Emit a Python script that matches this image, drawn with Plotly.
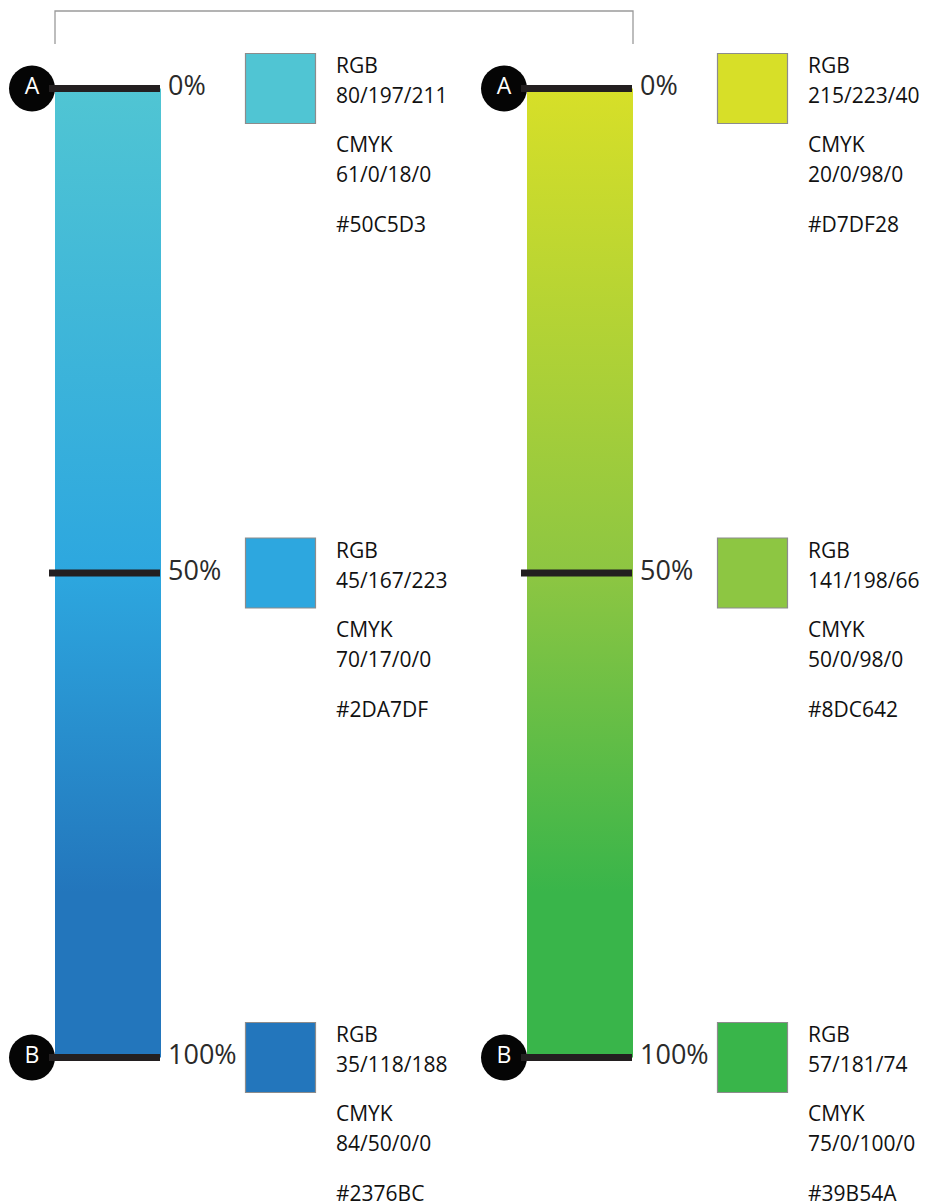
import plotly.graph_objects as go

# ---------------- data ----------------
stops = [0, 50, 100]
stop_labels = ["0%", "50%", "100%"]
end_marks = ["A", "", "B"]

blue_hex = ["#50C5D3", "#2DA7DF", "#2376BC"]
blue_rgb = ["80/197/211", "45/167/223", "35/118/188"]
blue_cmyk = ["61/0/18/0", "70/17/0/0", "84/50/0/0"]

green_hex = ["#D7DF28", "#8DC642", "#39B54A"]
green_rgb = ["215/223/40", "141/198/66", "57/181/74"]
green_cmyk = ["20/0/98/0", "50/0/98/0", "75/0/100/0"]

# position (0..1) where the gradient reaches its end colour
gradient_end = 0.83

columns = [
    dict(hexes=blue_hex, rgb=blue_rgb, cmyk=blue_cmyk),
    dict(hexes=green_hex, rgb=green_rgb, cmyk=green_cmyk),
]

# ---------------- layout constants (figure pixels) ----------------
W, H = 943, 1203
Y0 = 80.5          # pixel row of 0 %
PPP = 9.69         # pixels per percent
COL_DX = 472       # horizontal distance between the two columns
BAR_X0, BAR_W = 47, 106
TICK_EXT = 6
CIRCLE_X = 24
LABEL_X = 160
SWATCH_X = 272.5
SWATCH_SIZE = 70
TEXT_X = 326
TEXT_FONT = "Open Sans, DejaVu Sans, sans-serif"

fig = go.Figure()
shapes = []
annotations = []

for ci, col in enumerate(columns):
    dx = ci * COL_DX
    x0 = BAR_X0 + dx
    x1 = x0 + BAR_W
    lo, hi = min(stops), max(stops)

    # gradient bar
    cs = [[0.0, col["hexes"][0]], [0.5, col["hexes"][1]],
          [gradient_end, col["hexes"][2]], [1.0, col["hexes"][2]]]
    fig.add_trace(go.Scatter(
        x=[x0, x1, x1, x0, x0], y=[lo, lo, hi, hi, lo],
        mode="lines", line=dict(width=0), fill="toself",
        fillgradient=dict(type="vertical", colorscale=cs, start=lo, stop=hi),
        hoverinfo="skip", showlegend=False))

    # tick lines
    for s in stops:
        shapes.append(dict(type="line", xref="x", yref="y",
                           x0=x0 - TICK_EXT, x1=x1 - 1, y0=s, y1=s,
                           line=dict(color="#231F20", width=7)))

    # end circles A / B
    ex = [CIRCLE_X + dx for s, m in zip(stops, end_marks) if m]
    ey = [s for s, m in zip(stops, end_marks) if m]
    et = [m for m in end_marks if m]
    fig.add_trace(go.Scatter(
        x=ex, y=ey, mode="markers+text", text=et,
        textposition="middle center",
        textfont=dict(color="white", size=23, family=TEXT_FONT),
        marker=dict(size=46, color="#050505", line=dict(width=0)),
        hoverinfo="skip", showlegend=False))

    # percent labels
    fig.add_trace(go.Scatter(
        x=[LABEL_X + dx] * len(stops), y=stops, mode="text",
        text=stop_labels, textposition="middle right",
        textfont=dict(color="#2a2a2a", size=27, family=TEXT_FONT),
        hoverinfo="skip", showlegend=False))

    # swatches
    fig.add_trace(go.Scatter(
        x=[SWATCH_X + dx] * len(stops), y=stops, mode="markers",
        marker=dict(symbol="square", size=SWATCH_SIZE, color=col["hexes"],
                    line=dict(color="#8c8c8c", width=1.2)),
        hoverinfo="skip", showlegend=False))

    # swatch texts
    for i, s in enumerate(stops):
        lines = [("RGB", 23.5), (col["rgb"][i], -6.5), ("CMYK", -55.5),
                 (col["cmyk"][i], -85.5), (col["hexes"][i], -135.5)]
        for txt, shift in lines:
            annotations.append(dict(
                x=TEXT_X + dx, y=s, xref="x", yref="y", text=txt,
                showarrow=False, xanchor="left", yanchor="middle",
                yshift=shift, font=dict(size=21, color="#111111", family=TEXT_FONT)))

# top bracket
bx0 = BAR_X0
bx1 = BAR_X0 + COL_DX + BAR_W
yt = 1 - 3 / H
yb = 1 - 36 / H
shapes.append(dict(type="path", xref="x", yref="paper",
                   path=f"M {bx0},{yb} L {bx0},{yt} L {bx1},{yt} L {bx1},{yb}",
                   line=dict(color="#9a9a9a", width=1.3)))

fig.update_layout(
    width=W, height=H,
    margin=dict(l=0, r=0, t=0, b=0),
    paper_bgcolor="white", plot_bgcolor="white",
    showlegend=False,
    xaxis=dict(range=[0, W], visible=False, fixedrange=True),
    yaxis=dict(range=[(H - Y0) / PPP, -Y0 / PPP], visible=False, fixedrange=True),
    shapes=shapes,
    annotations=annotations,
)

fig.write_html("out.html")
